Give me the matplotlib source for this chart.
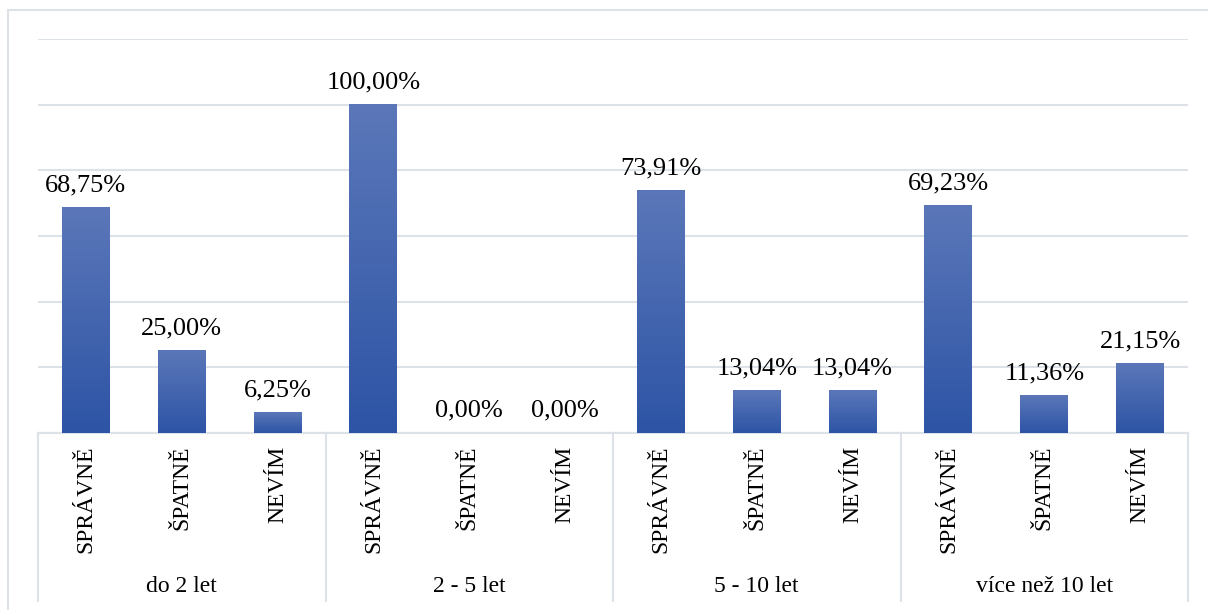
"""
Correct / wrong / don't know answers by length of practice (grouped bar chart).
"""

import matplotlib
matplotlib.use("Agg")
import matplotlib.pyplot as plt
import numpy as np
from matplotlib.colors import LinearSegmentedColormap
from matplotlib.lines import Line2D
from matplotlib.patches import Rectangle

matplotlib.rcParams.update({
    "font.family": ["Liberation Serif", "DejaVu Serif"],
})

# ---------------------------------------------------------------------------
# Data
# ---------------------------------------------------------------------------
groups  = ["do 2 let", "2 - 5 let", "5 - 10 let", "více než 10 let"]
answers = ["SPRÁVNĚ", "ŠPATNĚ", "NEVÍM"]
values  = [
    [68.75, 25.00, 6.25],
    [100.00, 0.00, 0.00],
    [73.91, 13.04, 13.04],
    [69.23, 11.36, 21.15],
]

# ---------------------------------------------------------------------------
# Style
# ---------------------------------------------------------------------------
W, H      = 1208, 610
TOP_C     = "#5B77B9"
BOT_C     = "#2D54A5"
GRID_C    = "#DDE1E8"
BAR_W     = 0.5
LABEL_FS  = 19
CAT_FS    = 17

cmap = LinearSegmentedColormap.from_list("bar", [BOT_C, TOP_C])
grad = np.linspace(0, 1, 256).reshape(-1, 1)

fig = plt.figure(figsize=(W / 100, H / 100), dpi=100)
ax = fig.add_axes([38 / W, 1 - 433 / H, 1150 / W, (433 - 39) / H])

n_cat = len(groups) * len(answers)
ax.set_xlim(0, n_cat)
ax.set_ylim(0, 120)

i = 0
for g, vals in zip(groups, values):
    for a, v in zip(answers, vals):
        x0 = i + 0.5 - BAR_W / 2
        if v > 0:
            ax.imshow(grad, cmap=cmap, aspect="auto", origin="lower",
                      extent=(x0, x0 + BAR_W, 0, v), zorder=3,
                      interpolation="bilinear")
        ax.annotate(f"{v:.2f}%".replace(".", ","), xy=(i + 0.5, v),
                    xytext=(0, 8), textcoords="offset points",
                    ha="center", va="bottom", fontsize=LABEL_FS,
                    color="black", zorder=5)
        ax.text(i + 0.5, -3.8, a, rotation=90, ha="center", va="top",
                fontsize=CAT_FS, color="black")
        i += 1

# re-apply limits (imshow resets them)
ax.set_xlim(0, n_cat)
ax.set_ylim(0, 120)

ax.set_yticks(np.arange(0, 121, 20))
ax.set_xticks([])
ax.tick_params(left=False, labelleft=False)
ax.grid(axis="y", color=GRID_C, lw=1.5, zorder=0)
ax.set_axisbelow(True)
for s in ("top", "right", "left"):
    ax.spines[s].set_visible(False)
ax.spines["bottom"].set_color(GRID_C)
ax.spines["bottom"].set_linewidth(1.5)

# group separators and group labels
to_fig = fig.transFigure.inverted()
y_bot = 1 - 601 / H
for k in range(len(groups) + 1):
    xk = k * len(answers)
    xf = to_fig.transform(ax.transData.transform((xk, 0)))[0]
    fig.add_artist(Line2D([xf, xf], [1 - 433 / H, y_bot], color=GRID_C,
                          lw=1.5, transform=fig.transFigure))
for k, g in enumerate(groups):
    xc = k * len(answers) + len(answers) / 2
    xf = to_fig.transform(ax.transData.transform((xc, 0)))[0]
    fig.text(xf, 1 - 587 / H, g, ha="center", va="center", fontsize=CAT_FS)

# outer chart frame (cropped at right and bottom)
fig.add_artist(Rectangle((8 / W, -0.1), 1.2, 1.1 - 10 / H, fill=False,
                         edgecolor=GRID_C, lw=1.5,
                         transform=fig.transFigure))

fig.savefig("out.png", dpi=100)
